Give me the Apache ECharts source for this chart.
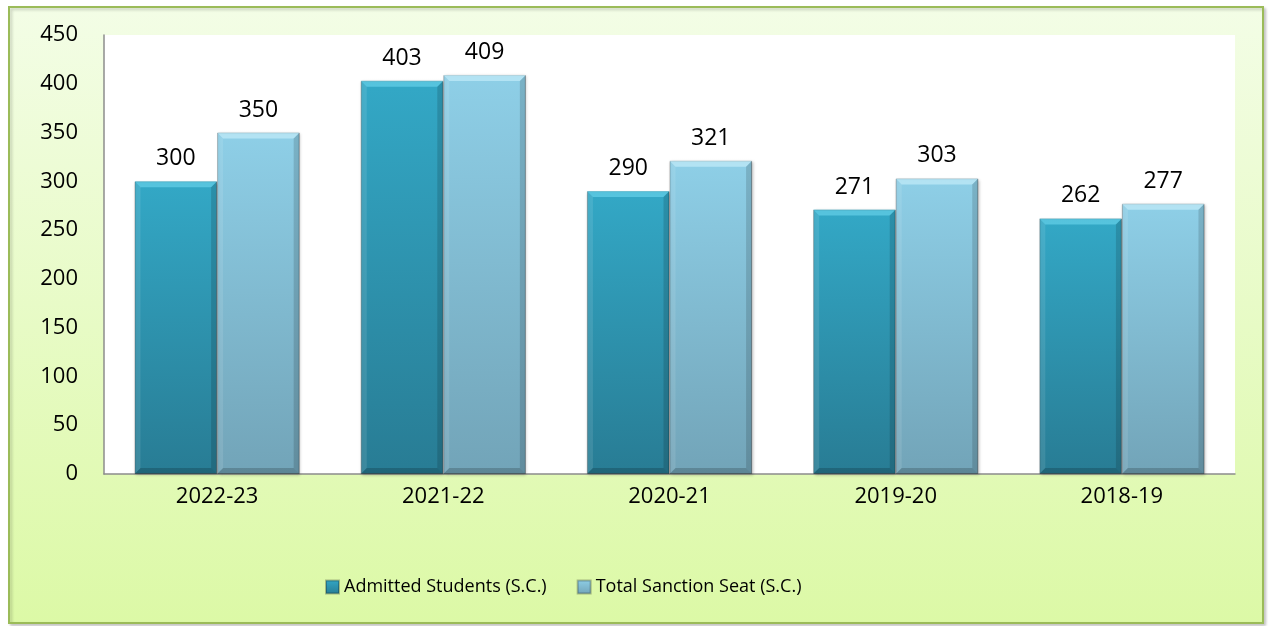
<!DOCTYPE html>
<html>
<head>
<meta charset="utf-8">
<script src="https://cdn.jsdelivr.net/npm/echarts@6/dist/echarts.min.js"></script>
<style>
html, body { margin: 0; padding: 0; background: #fff; }
#chart { width: 1275px; height: 626px; }
</style>
</head>
<body>
<div id="chart"></div>
<script>
// values
var years = ['2022-23', '2021-22', '2020-21', '2019-20', '2018-19']
var admitted = [300, 403, 290, 271, 262]
var sanction = [350, 409, 321, 303, 277]
var seriesNames = ['Admitted Students (S.C.)', 'Total Sanction Seat (S.C.)']

var font = 'Open Sans'
var catGap = 0.27

function barStyle(top, bottom) {
    return {
        color: new echarts.graphic.LinearGradient(0, 0, 0, 1, [
            { offset: 0, color: top },
            { offset: 1, color: bottom }
        ]),
        borderColor: 'rgba(0,0,0,0.25)',
        borderWidth: 1,
        shadowColor: 'rgba(0,0,0,0.25)',
        shadowBlur: 3,
        shadowOffsetX: 1,
        shadowOffsetY: 1
    }
}

// bevel edges drawn over the bars, positioned from the axis scales
function bevelData(values, idx) {
    return values.map(function (v, i) { return [i, v, idx] })
}
function renderBevel(params, api) {
    var i = api.value(0), v = api.value(1), idx = api.value(2)
    var top = api.coord([i, v])
    var base = api.coord([i, 0])
    var band = api.size([1, 0])[0]
    var bw = band * (1 - catGap) / 2
    var x0 = idx === 0 ? top[0] - bw : top[0]
    var x1 = x0 + bw
    var y0 = top[1], y1 = base[1]
    var b = 6
    var light = idx === 0 ? 'rgba(110,215,238,0.6)' : 'rgba(200,238,250,0.65)'
    return {
        type: 'group',
        children: [
            { type: 'polygon', shape: { points: [[x0, y0], [x1, y0], [x1 - b, y0 + b], [x0 + b, y0 + b]] }, style: { fill: light } },
            { type: 'polygon', shape: { points: [[x0, y0], [x0 + b, y0 + b], [x0 + b, y1 - b], [x0, y1]] }, style: { fill: 'rgba(255,255,255,0.1)' } },
            { type: 'polygon', shape: { points: [[x1, y0], [x1 - b, y0 + b], [x1 - b, y1 - b], [x1, y1]] }, style: { fill: 'rgba(0,0,0,0.14)' } },
            { type: 'polygon', shape: { points: [[x0, y1], [x0 + b, y1 - b], [x1 - b, y1 - b], [x1, y1]] }, style: { fill: 'rgba(0,0,0,0.18)' } }
        ]
    }
}

var chart = echarts.init(document.getElementById('chart'))
var labelStyle = { show: true, position: 'top', distance: 11, fontFamily: font, fontSize: 23, color: '#000' }
var option = {
    backgroundColor: 'transparent',
    animation: false,
    graphic: [{
        type: 'rect',
        z: -10,
        shape: { x: 9, y: 7, width: 1254, height: 616 },
        style: {
            fill: new echarts.graphic.LinearGradient(0, 0, 0, 1, [
                { offset: 0, color: '#f3fde6' },
                { offset: 1, color: '#dcf9a6' }
            ]),
            stroke: '#9bbb59',
            lineWidth: 2,
            shadowColor: 'rgba(0,0,0,0.2)',
            shadowBlur: 3,
            shadowOffsetX: 2,
            shadowOffsetY: 2
        }
    }],
    grid: {
        left: 104, right: 40, top: 35, bottom: 152,
        show: true, backgroundColor: '#ffffff', borderWidth: 0
    },
    legend: {
        top: 573,
        left: 320,
        icon: 'rect',
        itemWidth: 13, itemHeight: 13, itemGap: 30,
        textStyle: { fontFamily: font, fontSize: 18, color: '#000' },
        data: seriesNames
    },
    xAxis: {
        type: 'category',
        data: years,
        axisLine: { lineStyle: { color: '#8c8c8c', width: 1.5 } },
        axisTick: { show: false },
        axisLabel: { fontFamily: font, fontSize: 22, color: '#000', margin: 12 }
    },
    yAxis: {
        type: 'value',
        min: 0, max: 450, interval: 50,
        axisLine: { show: true, lineStyle: { color: '#8c8c8c', width: 1.5 } },
        axisTick: { show: false },
        splitLine: { show: false },
        axisLabel: { fontFamily: font, fontSize: 22, color: '#000', margin: 26 }
    },
    series: [{
        name: seriesNames[0],
        type: 'bar',
        data: admitted,
        barGap: '0%',
        barCategoryGap: (catGap * 100) + '%',
        itemStyle: barStyle('#33a8c6', '#287c94'),
        label: labelStyle
    }, {
        name: seriesNames[1],
        type: 'bar',
        data: sanction,
        itemStyle: barStyle('#8ecfe7', '#72a4b8'),
        label: labelStyle
    }, {
        type: 'custom',
        silent: true,
        z: 3,
        renderItem: renderBevel,
        data: bevelData(admitted, 0)
    }, {
        type: 'custom',
        silent: true,
        z: 3,
        renderItem: renderBevel,
        data: bevelData(sanction, 1)
    }]
}
chart.setOption(option)
</script>
</body>
</html>
